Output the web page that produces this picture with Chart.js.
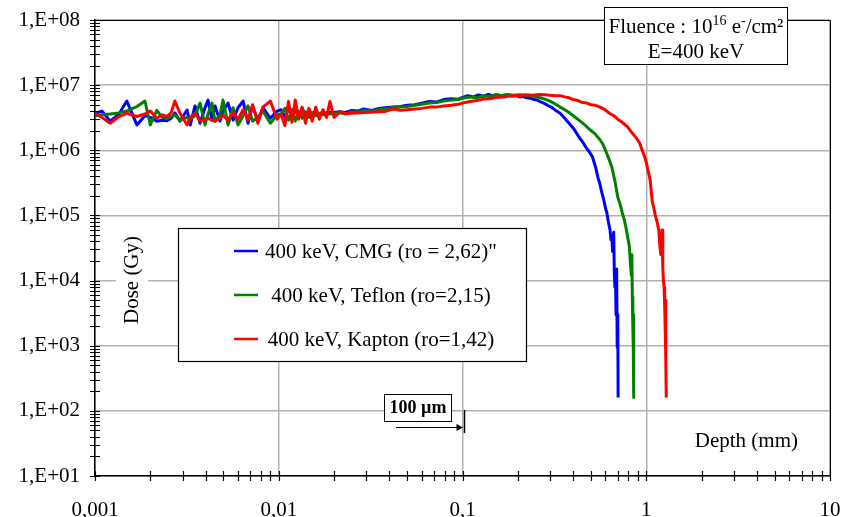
<!DOCTYPE html>
<html>
<head>
<meta charset="utf-8">
<script src="https://cdn.jsdelivr.net/npm/chart.js@4.4.1/dist/chart.umd.min.js"></script>
<style>
  html, body { margin: 0; padding: 0; background: #fff; }
  canvas { display: block; }
</style>
</head>
<body>
<canvas id="graficoDosis" width="851" height="517"></canvas>
<script>
// Profundidad (mm) comun a las tres series antes del pico
var depthNear = [0.001, 0.00109, 0.00121, 0.00135, 0.00149, 0.00169, 0.00187, 0.002, 0.00217, 0.00232,
    0.00246, 0.0026, 0.00272, 0.0029, 0.00317, 0.0033, 0.0035, 0.00373, 0.00397, 0.00412,
    0.00433, 0.0045, 0.00479, 0.00497, 0.0053, 0.00564, 0.006, 0.0064, 0.0068, 0.0072,
    0.0077, 0.0082, 0.009, 0.0098];
var depthMid = [0.0103, 0.0108, 0.0113, 0.0118, 0.0123, 0.0128, 0.0134, 0.014, 0.0146, 0.0152,
    0.0159, 0.0166, 0.0174, 0.0182, 0.019, 0.02, 0.0215, 0.023, 0.025, 0.027,
    0.029, 0.032, 0.035, 0.038, 0.042, 0.046, 0.05, 0.055, 0.06, 0.066,
    0.072, 0.079, 0.087, 0.095];

// Dosis (Gy) - CMG
var cmgNear = [3.7e6, 4.0e6, 2.8e6, 3.6e6, 5.7e6, 2.45e6, 3.4e6, 3.2e6, 2.8e6, 2.9e6,
    2.85e6, 3.1e6, 3.75e6, 2.8e6, 4.15e6, 2.45e6, 4.8e6, 2.6e6, 4.5e6, 5.9e6,
    2.9e6, 4.8e6, 2.8e6, 4.0e6, 5.3e6, 2.9e6, 4.5e6, 5.7e6, 2.6e6, 4.8e6,
    2.9e6, 4.5e6, 3.1e6, 4.0e6];
var cmgMid = [4.2e6, 3.2e6, 4.6e6, 3.0e6, 4.3e6, 3.3e6, 4.4e6, 3.4e6, 4.2e6, 3.5e6,
    4.0e6, 3.6e6, 3.9e6, 3.7e6, 3.85e6, 3.8e6, 3.9e6, 3.8e6, 4.1e6, 4.0e6,
    4.3e6, 4.1e6, 4.4e6, 4.5e6, 4.6e6, 4.7e6, 4.9e6, 5.0e6, 5.3e6, 5.6e6,
    5.5e6, 6.0e6, 6.2e6, 6.1e6];
var cmgTailDepth = [0.1, 0.107, 0.115, 0.122, 0.13, 0.138, 0.147, 0.156, 0.165, 0.175,
    0.185, 0.195, 0.205, 0.214, 0.224, 0.235, 0.245, 0.255, 0.264, 0.277,
    0.29, 0.3, 0.311, 0.325, 0.34, 0.36, 0.38, 0.405, 0.43, 0.45,
    0.47, 0.49, 0.51, 0.53, 0.546, 0.557, 0.57, 0.585, 0.6, 0.61,
    0.622, 0.635, 0.643, 0.65, 0.656, 0.66, 0.665, 0.67, 0.675, 0.68,
    0.685, 0.69, 0.695, 0.7, 0.703];
var cmgTailDose = [6.5e6, 6.9e6, 6.6e6, 7.1e6, 6.7e6, 7.2e6, 6.9e6, 7.1e6, 6.8e6, 7.0e6,
    6.8e6, 6.9e6, 6.6e6, 6.7e6, 6.4e6, 6.3e6, 6.0e6, 5.9e6, 5.6e6, 5.3e6,
    4.9e6, 4.7e6, 4.4e6, 4.0e6, 3.7e6, 3.1e6, 2.6e6, 2.1e6, 1.6e6, 1.35e6,
    1.1e6, 9.5e5, 7.9e5, 5.5e5, 3.8e5, 3.2e5, 2.4e5, 1.8e5, 1.3e5, 1.1e5,
    8e4, 6e4, 4.2e4, 5e4, 2.8e4, 3.3e4, 5.5e4, 1.4e4, 8e3, 1.1e4,
    3e3, 1.5e4, 9.5e2, 3e3, 1.6e2];

// Dosis (Gy) - Teflon
var teflonNear = [3.4e6, 3.5e6, 3.6e6, 3.75e6, 4.0e6, 4.7e6, 5.7e6, 2.45e6, 4.1e6, 3.2e6,
    3.1e6, 3.3e6, 3.5e6, 2.9e6, 3.2e6, 3.0e6, 3.4e6, 5.3e6, 2.45e6, 3.6e6,
    5.3e6, 2.8e6, 3.5e6, 5.9e6, 2.45e6, 4.5e6, 2.45e6, 3.4e6, 4.8e6, 2.8e6,
    3.2e6, 4.0e6, 2.6e6, 3.5e6];
var teflonMid = [3.6e6, 4.4e6, 2.9e6, 4.2e6, 2.8e6, 4.0e6, 3.1e6, 3.9e6, 3.2e6, 3.8e6,
    3.4e6, 3.7e6, 3.5e6, 3.6e6, 3.6e6, 3.7e6, 3.75e6, 3.6e6, 3.9e6, 3.85e6,
    4.1e6, 4.0e6, 4.2e6, 4.3e6, 4.5e6, 4.6e6, 4.7e6, 4.9e6, 5.1e6, 5.3e6,
    5.4e6, 5.7e6, 5.9e6, 6.0e6];
var teflonTailDepth = [0.1, 0.11, 0.12, 0.13, 0.14, 0.15, 0.16, 0.175, 0.19, 0.205,
    0.22, 0.235, 0.25, 0.265, 0.28, 0.295, 0.31, 0.325, 0.34, 0.36,
    0.38, 0.405, 0.43, 0.46, 0.49, 0.525, 0.56, 0.58, 0.6, 0.625,
    0.65, 0.675, 0.7, 0.72, 0.74, 0.76, 0.78, 0.795, 0.81, 0.82,
    0.83, 0.835, 0.84, 0.845, 0.85, 0.853, 0.856];
var teflonTailDose = [6.3e6, 6.6e6, 6.4e6, 6.9e6, 6.7e6, 7.1e6, 6.9e6, 7.2e6, 7.0e6, 7.1e6,
    6.9e6, 6.9e6, 6.6e6, 6.4e6, 6.1e6, 5.8e6, 5.4e6, 5.0e6, 4.6e6, 4.2e6,
    3.8e6, 3.3e6, 2.9e6, 2.5e6, 2.1e6, 1.8e6, 1.45e6, 1.25e6, 1.0e6, 7.5e5,
    5.5e5, 3.4e5, 1.9e5, 1.5e5, 1.1e5, 8.5e4, 6e4, 4.4e4, 3.3e4, 1.8e4,
    1.2e4, 2.5e4, 5.6e3, 2e3, 9.5e2, 3e3, 1.6e2];

// Dosis (Gy) - Kapton
var kaptonNear = [3.7e6, 3.2e6, 2.6e6, 3.3e6, 3.7e6, 3.3e6, 3.6e6, 4.0e6, 3.1e6, 3.5e6,
    3.3e6, 3.8e6, 5.7e6, 3.7e6, 2.45e6, 3.2e6, 3.7e6, 2.8e6, 3.0e6, 3.1e6,
    2.9e6, 2.8e6, 3.1e6, 3.4e6, 2.9e6, 3.8e6, 3.0e6, 4.2e6, 2.9e6, 5.0e6,
    2.6e6, 4.6e6, 5.7e6, 3.0e6];
var kaptonMid = [3.6e6, 2.4e6, 5.6e6, 2.7e6, 5.9e6, 3.0e6, 4.6e6, 2.6e6, 4.4e6, 2.8e6,
    4.6e6, 3.0e6, 4.2e6, 3.2e6, 5.6e6, 3.2e6, 3.9e6, 3.65e6, 3.7e6, 3.75e6,
    3.8e6, 3.85e6, 3.9e6, 3.95e6, 4.3e6, 4.1e6, 4.2e6, 4.3e6, 4.4e6, 4.6e6,
    4.6e6, 4.8e6, 4.9e6, 5.1e6];
var kaptonTailDepth = [0.1, 0.11, 0.12, 0.13, 0.14, 0.155, 0.17, 0.185, 0.2, 0.22,
    0.24, 0.26, 0.28, 0.3, 0.32, 0.34, 0.36, 0.38, 0.4, 0.425,
    0.45, 0.475, 0.5, 0.53, 0.56, 0.595, 0.63, 0.665, 0.7, 0.725,
    0.75, 0.79, 0.83, 0.875, 0.92, 0.95, 0.98, 1.0, 1.02, 1.035,
    1.05, 1.065, 1.08, 1.1, 1.12, 1.145, 1.17, 1.185, 1.2, 1.21,
    1.22, 1.23, 1.24, 1.25, 1.26, 1.27, 1.275, 1.28, 1.285];
var kaptonTailDose = [5.3e6, 5.6e6, 5.8e6, 6.1e6, 6.2e6, 6.5e6, 6.6e6, 6.9e6, 6.9e6, 7.1e6,
    7.0e6, 7.2e6, 7.1e6, 7.0e6, 6.9e6, 6.9e6, 6.6e6, 6.4e6, 6.0e6, 5.8e6,
    5.4e6, 5.3e6, 5.0e6, 4.9e6, 4.6e6, 4.2e6, 3.7e6, 3.4e6, 3.0e6, 2.8e6,
    2.6e6, 2.3e6, 1.9e6, 1.6e6, 1.3e6, 1.0e6, 8e5, 6.5e5, 5e5, 4.2e5,
    3.5e5, 2.3e5, 1.6e5, 1.3e5, 1e5, 8e4, 6e4, 3.5e4, 2.5e4, 4e4,
    6e4, 1.6e4, 1e4, 8e3, 4e3, 1.5e3, 5e3, 6e2, 1.6e2];

var seriesLabels = ['400 keV, CMG (ro = 2,62)"', '400 keV, Teflon (ro=2,15)', '400 keV, Kapton (ro=1,42)'];
var seriesColors = ['#0000ff', '#008000', '#ff0000'];

var xTickValues = [0.001, 0.01, 0.1, 1, 10];
var xTickLabels = ['0,001', '0,01', '0,1', '1', '10'];
var yTickValues = [1e1, 1e2, 1e3, 1e4, 1e5, 1e6, 1e7, 1e8];
var yTickLabels = ['1,E+01', '1,E+02', '1,E+03', '1,E+04', '1,E+05', '1,E+06', '1,E+07', '1,E+08'];

var FONT = 'Liberation Serif';

function puntos(depths, doses) {
    return depths.map(function (d, i) { return { x: d, y: doses[i] }; });
}

var serieCmg = puntos(depthNear, cmgNear).concat(puntos(depthMid, cmgMid), puntos(cmgTailDepth, cmgTailDose));
var serieTeflon = puntos(depthNear, teflonNear).concat(puntos(depthMid, teflonMid), puntos(teflonTailDepth, teflonTailDose));
var serieKapton = puntos(depthNear, kaptonNear).concat(puntos(depthMid, kaptonMid), puntos(kaptonTailDepth, kaptonTailDose));

// Marcas, leyenda y anotaciones dibujadas a mano
var decoraciones = {
    id: 'decoraciones',
    afterDraw: function (chart) {
        var ctx = chart.ctx, a = chart.chartArea;
        var xs = chart.scales.x, ys = chart.scales.y;
        ctx.save();

        // marco superior y derecho
        ctx.strokeStyle = '#000';
        ctx.lineWidth = 1;
        ctx.beginPath();
        ctx.moveTo(a.left, a.top + 0.5);
        ctx.lineTo(a.right + 0.5, a.top + 0.5);
        ctx.lineTo(a.right + 0.5, a.bottom);
        ctx.stroke();

        // marcas que cruzan los ejes
        ctx.lineWidth = 1.2;
        ctx.beginPath();
        xTickValues.forEach(function (d, i) {
            var top = i === xTickValues.length - 1 ? 1 : 9;
            for (var m = 1; m <= top; m++) {
                var px = Math.round(xs.getPixelForValue(d * m)) + 0.5;
                ctx.moveTo(px, a.bottom - 5);
                ctx.lineTo(px, a.bottom + 5);
            }
        });
        yTickValues.forEach(function (d, i) {
            var top = i === yTickValues.length - 1 ? 1 : 9;
            for (var m = 1; m <= top; m++) {
                var py = Math.round(ys.getPixelForValue(d * m)) + 0.5;
                ctx.moveTo(a.left - 5, py);
                ctx.lineTo(a.left + 5, py);
            }
        });
        ctx.stroke();

        ctx.fillStyle = '#000';
        ctx.font = '21px "' + FONT + '"';

        // titulo eje Y
        ctx.save();
        ctx.translate(132, 280);
        ctx.rotate(-Math.PI / 2);
        ctx.fillStyle = '#fff';
        ctx.fillRect(-49, -16, 98, 32);
        ctx.fillStyle = '#000';
        ctx.textAlign = 'center';
        ctx.textBaseline = 'middle';
        ctx.fillText('Dose (Gy)', 0, 0);
        ctx.restore();

        // titulo eje X
        ctx.textAlign = 'right';
        ctx.textBaseline = 'alphabetic';
        ctx.fillText('Depth (mm)', 798, 447);

        // leyenda
        ctx.fillStyle = '#fff';
        ctx.fillRect(178, 228, 348, 133);
        ctx.strokeStyle = '#000';
        ctx.lineWidth = 1.2;
        ctx.strokeRect(178.5, 228.5, 348, 133);
        var filas = [252, 296, 340];
        chart.data.datasets.forEach(function (ds, i) {
            ctx.strokeStyle = ds.borderColor;
            ctx.lineWidth = 2.5;
            ctx.beginPath();
            ctx.moveTo(234, filas[i] - 1);
            ctx.lineTo(258, filas[i] - 1);
            ctx.stroke();
            ctx.fillStyle = '#000';
            ctx.textAlign = 'center';
            ctx.textBaseline = 'middle';
            ctx.fillText(ds.label, 381, filas[i]);
        });

        // recuadro de fluencia
        ctx.fillStyle = '#fff';
        ctx.fillRect(604, 7, 183, 57);
        ctx.strokeStyle = '#000';
        ctx.lineWidth = 1;
        ctx.strokeRect(604.5, 7.5, 183, 57);
        var partes = [
            { t: 'Fluence : 10', s: 21, dy: 0 },
            { t: '16', s: 14, dy: -8 },
            { t: ' e', s: 21, dy: 0 },
            { t: '-', s: 14, dy: -8 },
            { t: '/cm\u00b2', s: 21, dy: 0 }
        ];
        var total = 0;
        partes.forEach(function (p) {
            ctx.font = p.s + 'px "' + FONT + '"';
            p.w = ctx.measureText(p.t).width;
            total += p.w;
        });
        var cx = 696 - total / 2;
        ctx.fillStyle = '#000';
        ctx.textAlign = 'left';
        ctx.textBaseline = 'alphabetic';
        partes.forEach(function (p) {
            ctx.font = p.s + 'px "' + FONT + '"';
            ctx.fillText(p.t, cx, 33 + p.dy);
            cx += p.w;
        });
        ctx.font = '21px "' + FONT + '"';
        ctx.textAlign = 'center';
        ctx.fillText('E=400 keV', 696, 58);

        // marca de 100 um
        var x01 = xs.getPixelForValue(0.1);
        ctx.fillStyle = '#fff';
        ctx.fillRect(384, 394, 67, 27);
        ctx.strokeStyle = '#000';
        ctx.lineWidth = 1;
        ctx.strokeRect(384.5, 394.5, 67, 27);
        ctx.fillStyle = '#000';
        ctx.font = 'bold 18px "' + FONT + '"';
        ctx.textAlign = 'center';
        ctx.textBaseline = 'middle';
        ctx.fillText('100 \u00b5m', 418, 408);
        ctx.lineWidth = 1.2;
        ctx.beginPath();
        ctx.moveTo(396, 427.5);
        ctx.lineTo(x01 - 5, 427.5);
        ctx.stroke();
        ctx.beginPath();
        ctx.moveTo(x01 + 0.5, 427.5);
        ctx.lineTo(x01 - 6, 424);
        ctx.lineTo(x01 - 6, 431);
        ctx.closePath();
        ctx.fill();
        ctx.lineWidth = 1.5;
        ctx.beginPath();
        ctx.moveTo(x01 + 2, 410);
        ctx.lineTo(x01 + 2, 433);
        ctx.stroke();

        ctx.restore();
    }
};

var ctx = document.getElementById('graficoDosis').getContext('2d');

var chart = new Chart(ctx, {
    type: 'line',
    data: {
        datasets: [
            { label: seriesLabels[0], data: serieCmg, borderColor: seriesColors[0], order: 2 },
            { label: seriesLabels[1], data: serieTeflon, borderColor: seriesColors[1], order: 1 },
            { label: seriesLabels[2], data: serieKapton, borderColor: seriesColors[2], order: 0 }
        ]
    },
    options: {
        responsive: false,
        animation: false,
        layout: { padding: { left: 0, right: 21, top: 20, bottom: 0 } },
        elements: {
            line: { borderWidth: 3, tension: 0, borderJoinStyle: 'round', fill: false },
            point: { radius: 0, hoverRadius: 0 }
        },
        plugins: {
            legend: { display: false },
            tooltip: { enabled: false }
        },
        scales: {
            x: {
                type: 'logarithmic',
                min: 0.001,
                max: 10,
                afterBuildTicks: function (s) {
                    s.ticks = xTickValues.map(function (v) { return { value: v }; });
                },
                afterFit: function (s) {
                    s.height = 41;
                    s.paddingLeft = 0;
                    s.paddingRight = 0;
                },
                ticks: {
                    callback: function (v, i) { return xTickLabels[i]; },
                    font: { family: FONT, size: 21 },
                    color: '#000',
                    padding: 22,
                    maxRotation: 0,
                    autoSkip: false
                },
                grid: { color: '#b0b0b0', lineWidth: 1.5, drawTicks: false },
                border: { color: '#000', width: 1.5 }
            },
            y: {
                type: 'logarithmic',
                min: 10,
                max: 1e8,
                afterBuildTicks: function (s) {
                    s.ticks = yTickValues.map(function (v) { return { value: v }; });
                },
                afterFit: function (s) {
                    s.width = 95;
                    s.paddingTop = 0;
                    s.paddingBottom = 0;
                },
                ticks: {
                    callback: function (v, i) { return yTickLabels[i]; },
                    font: { family: FONT, size: 21 },
                    color: '#000',
                    padding: 15,
                    autoSkip: false
                },
                grid: { color: '#b0b0b0', lineWidth: 1.5, drawTicks: false },
                border: { color: '#000', width: 1.5 }
            }
        }
    },
    plugins: [decoraciones]
});
</script>
</body>
</html>
